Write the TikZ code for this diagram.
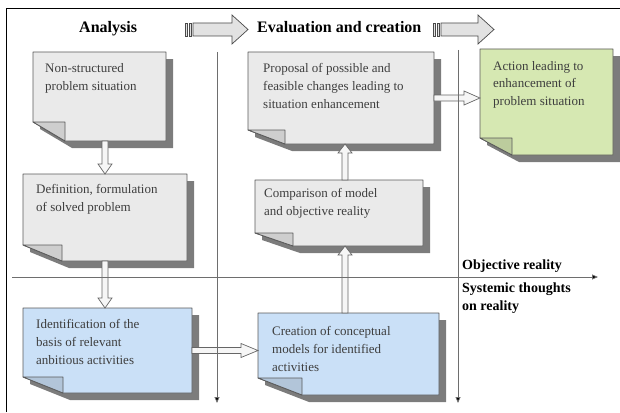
\documentclass[tikz,border=0pt]{standalone}
\usepackage{fontspec}
\setmainfont{Liberation Serif}
\usetikzlibrary{calc,arrows.meta}
\definecolor{grayfill}{HTML}{EAEAEA}
\definecolor{bluefill}{HTML}{CAE0F7}
\definecolor{greenfill}{HTML}{D6E8B2}
\definecolor{shadowgray}{HTML}{7C7C7C}
\definecolor{outline}{HTML}{5A5A5A}
\definecolor{textgray}{HTML}{3E3E3E}
\definecolor{axisgray}{HTML}{6E6E6E}
\definecolor{arrowfill}{HTML}{F6F6F6}
\definecolor{arrowedge}{HTML}{666666}
\definecolor{hdrfill}{HTML}{E2E2E2}
\definecolor{hdredge}{HTML}{4A4A4A}
\tikzset{
  boxarea/.style={inner sep=0pt, outer sep=0pt, anchor=north west, draw=none},
  noteline/.style={draw=outline, line width=0.8pt, line join=round},
  boxtext/.style={inner sep=0pt, anchor=north west, align=left, text=textgray,
    font=\fontsize{13}{18}\selectfont},
  hdr/.style={inner sep=0pt, anchor=base west, font=\fontsize{16}{19}\selectfont\bfseries},
  axislbl/.style={inner sep=0pt, anchor=north west, align=left,
    font=\fontsize{14}{18}\selectfont\bfseries},
  fatline/.style={draw=arrowedge, fill=arrowfill, line width=0.7pt, line join=miter},
  hdrarrow/.style={draw=hdredge, fill=hdrfill, line width=0.7pt, line join=miter},
  axisline/.style={draw=axisgray, line width=0.8pt, -{Triangle[length=6pt,width=5pt,fill=black]}},
  frameline/.style={draw=black, line width=1pt},
}
% #1 node name, #2 fill, #3 fold width, #4 fold height
\newcommand\mknote[4]{%
  \fill[shadowgray] ([shift={(7,7)}]#1.north west) -- ([shift={(7,7)}]#1.north east)
    -- ([shift={(7,7)}]#1.south east) -- ([shift={(7+#3,7)}]#1.south west)
    -- ([shift={(7,7-#4)}]#1.south west) -- cycle;
  \filldraw[noteline, fill=#2] (#1.north west) -- (#1.north east) -- (#1.south east)
    -- ([shift={(#3,0)}]#1.south west) -- ([shift={(0,-#4)}]#1.south west) -- cycle;
  \filldraw[noteline, fill=#2!88!black] ([shift={(0,-#4)}]#1.south west)
    -- ([shift={(#3,-#4)}]#1.south west) -- ([shift={(#3,0)}]#1.south west) -- cycle;
}
% #1 start, #2 end, #3 id, #4 head length
\newcommand\fatarrow[4]{%
  \coordinate (#3h) at ($(#2)!#4!(#1)$);
  \filldraw[fatline] ($(#1)!3pt!90:(#2)$) -- ($(#3h)!3pt!90:(#2)$) -- ($(#3h)!7pt!90:(#2)$)
    -- (#2) -- ($(#3h)!7pt!-90:(#2)$) -- ($(#3h)!3pt!-90:(#2)$) -- ($(#1)!3pt!-90:(#2)$) -- cycle;
}
\begin{document}
\begin{tikzpicture}[x=1pt,y=-1pt]
\useasboundingbox (0,0) rectangle (620,412);
% frame
\draw[frameline] (6,412) -- (6,9) -- (620,9);

% box areas
\node[boxarea, minimum width=133pt, minimum height=89pt] (A) at (33,52) {};
\node[boxarea, minimum width=164pt, minimum height=87pt] (B) at (23,174) {};
\node[boxarea, minimum width=169pt, minimum height=85pt] (C) at (23,308) {};
\node[boxarea, minimum width=181pt, minimum height=82pt] (D) at (258,313) {};
\node[boxarea, minimum width=168pt, minimum height=66pt] (E) at (255,180) {};
\node[boxarea, minimum width=186pt, minimum height=92pt] (F) at (248,52) {};
\node[boxarea, minimum width=133pt, minimum height=106pt] (G) at (480,49) {};

\mknote{A}{grayfill}{32}{19}
\mknote{B}{grayfill}{39}{16}
\mknote{C}{bluefill}{40}{16}
\mknote{D}{bluefill}{44}{17}
\mknote{E}{grayfill}{38}{13}
\mknote{F}{grayfill}{37}{14}
\mknote{G}{greenfill}{32}{17}

% texts
\node[boxtext] (At) at (45,63) {Non-structured\\problem situation};
\node[boxtext] (Bt) at (36,184) {Definition, formulation\\of solved problem};
\node[boxtext] (Ct) at (36,319) {Identification of the\\basis of relevant\\anbitious activities};
\node[boxtext] (Dt) at (272,326) {Creation of conceptual\\models for identified\\activities};
\node[boxtext] (Et) at (264,188) {Comparison of model\\and objective reality};
\node[boxtext] (Ft) at (263,63) {Proposal of possible and\\feasible changes leading to\\situation enhancement};
\node[boxtext, font=\fontsize{13}{17.5}\selectfont] (Gt) at (493,61) {Action leading to\\enhancement of\\problem situation};

% connectors
\fatarrow{A.south -| B.north}{B.north}{ab}{10pt}
\fatarrow{B.south}{B.south |- C.north}{bc}{10pt}
\fatarrow{C.east}{C.east -| D.west}{cd}{17pt}
\fatarrow{D.north -| 345,0}{E.south -| 345,0}{de}{9pt}
\fatarrow{E.north -| 345,0}{F.south -| 345,0}{ef}{9pt}
\fatarrow{F.east}{F.east -| G.west}{fg}{16pt}

% header arrows
\filldraw[hdrarrow] (185,23) rectangle (187.5,36);
\filldraw[hdrarrow] (189,23) rectangle (191.5,36);
\filldraw[hdrarrow] (193,23) -- (232,23) -- (232,15) -- (248,29.5) -- (232,44) -- (232,36) -- (193,36) -- cycle;
\filldraw[hdrarrow] (433,23) rectangle (435.5,36);
\filldraw[hdrarrow] (437,23) rectangle (439.5,36);
\filldraw[hdrarrow] (441,23) -- (478,23) -- (478,15) -- (494,29.5) -- (478,44) -- (478,36) -- (441,36) -- cycle;

% headers
\node[hdr] (h1) at (79,33) {Analysis};
\node[hdr] (h2) at (257,33) {Evaluation and creation};

% axes
\coordinate (v1t) at (217,52);
\coordinate (v1b) at (217,403);
\coordinate (v2t) at (458,50);
\coordinate (v2b) at (458,403);
\coordinate (hl) at (12,277);
\coordinate (hr) at (598,277);
\draw[axisline] (v1t) -- (v1b);
\draw[axisline] (v2t) -- (v2b);
\draw[axisline] (hl) -- (hr);

\node[axislbl] (obj) at (462,260) {Objective reality};
\node[axislbl] (sys) at (462,283) {Systemic thoughts\\on reality};
\end{tikzpicture}
\end{document}
